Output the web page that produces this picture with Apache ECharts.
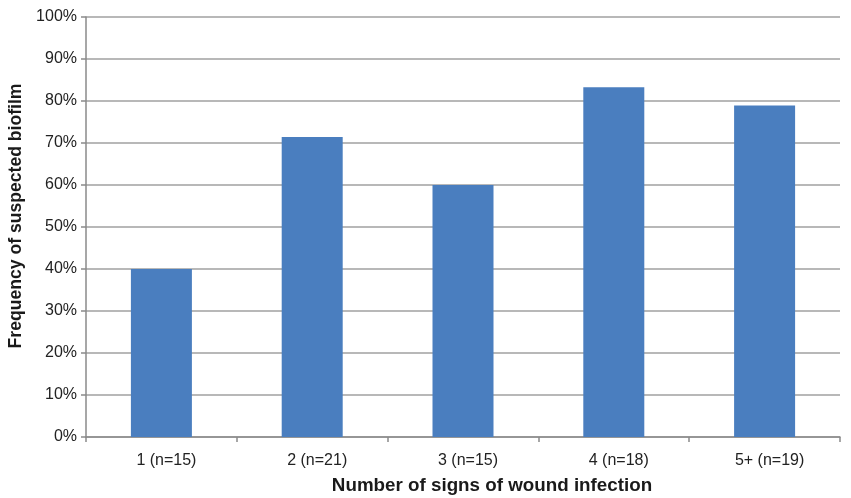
<!DOCTYPE html>
<html>
<head>
<meta charset="utf-8">
<script src="https://cdn.jsdelivr.net/npm/echarts@6/dist/echarts.min.js"></script>
<style>
  html, body { margin: 0; padding: 0; background: #fff; }
  #chart { width: 851px; height: 498px; }
</style>
</head>
<body>
<div id="chart"></div>
<script>
// Share of wounds with suspected biofilm, by number of infection signs
const categories = ['1 (n=15)', '2 (n=21)', '3 (n=15)', '4 (n=18)', '5+ (n=19)'];
const biofilmPct = [40.0, 71.4, 60.0, 83.3, 78.9];
const yTicks = { min: 0, max: 100, interval: 10 };

const chart = echarts.init(document.getElementById('chart'), null, { renderer: 'canvas' });
const font = 'Liberation Sans, Arial, Helvetica, sans-serif';

chart.setOption({
  animation: false,
  grid: { left: 86, right: 11, top: 17, bottom: 61, containLabel: false, outerBoundsMode: 'none' },
  xAxis: {
    type: 'category',
    data: categories,
    name: 'Number of signs of wound infection',
    nameLocation: 'middle',
    nameGap: 39,
    nameTextStyle: { fontFamily: font, fontSize: 18.8, fontWeight: 'bold', color: '#1a1a1a', padding: [0, 0, 0, 58] },
    axisLine: { lineStyle: { color: '#8a8a8a', width: 1.5 } },
    axisTick: { show: true, length: 5, alignWithLabel: false, lineStyle: { color: '#8a8a8a', width: 1.5 } },
    axisLabel: { fontFamily: font, fontSize: 16, color: '#222', margin: 16, padding: [0, 0, 0, 10] },
    splitLine: { show: false }
  },
  yAxis: {
    type: 'value',
    min: yTicks.min,
    max: yTicks.max,
    interval: yTicks.interval,
    name: 'Frequency of suspected biofilm',
    nameLocation: 'middle',
    nameGap: 60,
    nameRotate: 90,
    nameTextStyle: { fontFamily: font, fontSize: 17.6, fontWeight: 'bold', color: '#1a1a1a', padding: [0, 0, 0, 22] },
    axisLine: { show: true, lineStyle: { color: '#8a8a8a', width: 1.5 } },
    axisTick: { show: true, length: 5, inside: false, lineStyle: { color: '#8a8a8a', width: 1.5 } },
    axisLabel: { fontFamily: font, fontSize: 16, color: '#222', margin: 9, formatter: '{value}%' },
    splitLine: { show: true, lineStyle: { color: '#a0a0a0', width: 1.5 } }
  },
  series: [{
    type: 'bar',
    data: biofilmPct,
    barWidth: 61,
    itemStyle: { color: '#4a7ebf' }
  }]
});
</script>
</body>
</html>
